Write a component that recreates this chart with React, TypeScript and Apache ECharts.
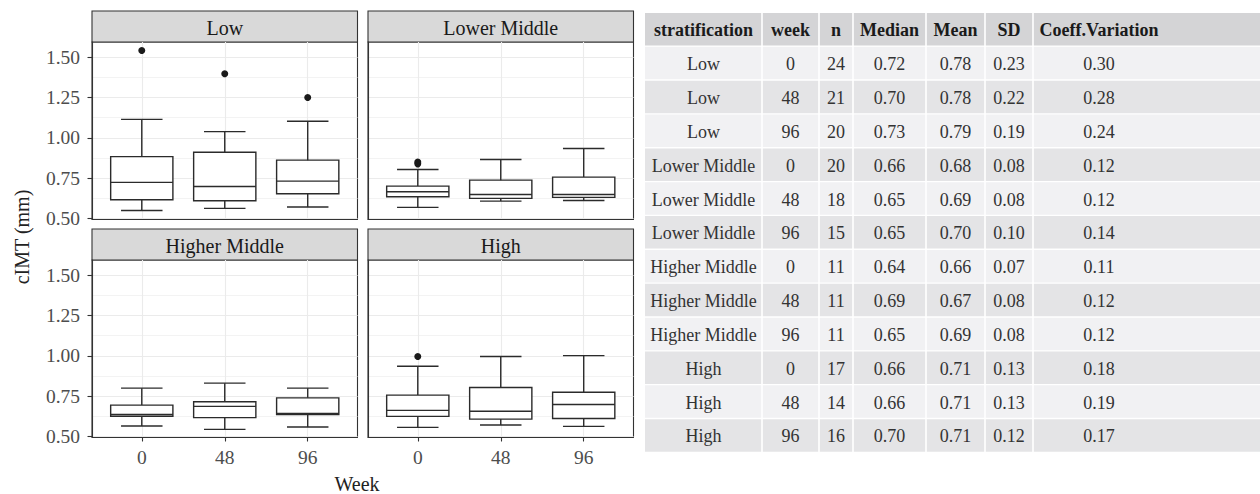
import React, { useEffect, useRef } from "react";
import * as echarts from "echarts";

// ---------- data ----------
const strata = ["Low", "Lower Middle", "Higher Middle", "High"];
const weeks = ["0", "48", "96"];
const yTicks = [0.5, 0.75, 1.0, 1.25, 1.5];
const yMinorTicks = [0.625, 0.875, 1.125, 1.375];

// [min, q1, median, q3, max] for weeks 0, 48, 96
const boxLow = [
  [0.549, 0.615, 0.723, 0.883, 1.114],
  [0.562, 0.609, 0.698, 0.91, 1.038],
  [0.57, 0.653, 0.731, 0.861, 1.102],
];
const boxLowerMiddle = [
  [0.568, 0.634, 0.665, 0.7, 0.803],
  [0.607, 0.624, 0.648, 0.737, 0.865],
  [0.611, 0.63, 0.648, 0.756, 0.933],
];
const boxHigherMiddle = [
  [0.564, 0.625, 0.636, 0.694, 0.799],
  [0.543, 0.616, 0.686, 0.715, 0.83],
  [0.558, 0.636, 0.642, 0.739, 0.799],
];
const boxHigh = [
  [0.556, 0.624, 0.661, 0.756, 0.935],
  [0.57, 0.607, 0.656, 0.803, 0.995],
  [0.562, 0.611, 0.698, 0.774, 1.001],
];
// [week index, value]
const outLow = [[0, 1.541], [1, 1.397], [2, 1.25]];
const outLowerMiddle = [[0, 0.838], [0, 0.85]];
const outHigherMiddle: number[][] = [];
const outHigh = [[0, 0.995]];

const panelBoxes = [boxLow, boxLowerMiddle, boxHigherMiddle, boxHigh];
const panelOutliers = [outLow, outLowerMiddle, outHigherMiddle, outHigh];

// summary table
const tableHeader = ["stratification", "week", "n", "Median", "Mean", "SD", "Coeff.Variation"];
const tabStrat = ["Low", "Low", "Low", "Lower Middle", "Lower Middle", "Lower Middle", "Higher Middle", "Higher Middle", "Higher Middle", "High", "High", "High"];
const tabWeek = ["0", "48", "96", "0", "48", "96", "0", "48", "96", "0", "48", "96"];
const tabN = ["24", "21", "20", "20", "18", "15", "11", "11", "11", "17", "14", "16"];
const tabMedian = ["0.72", "0.70", "0.73", "0.66", "0.65", "0.65", "0.64", "0.69", "0.65", "0.66", "0.66", "0.70"];
const tabMean = ["0.78", "0.78", "0.79", "0.68", "0.69", "0.70", "0.66", "0.67", "0.69", "0.71", "0.71", "0.71"];
const tabSD = ["0.23", "0.22", "0.19", "0.08", "0.08", "0.10", "0.07", "0.08", "0.08", "0.13", "0.13", "0.12"];
const tabCV = ["0.30", "0.28", "0.24", "0.12", "0.12", "0.14", "0.11", "0.12", "0.12", "0.18", "0.19", "0.17"];

// ---------- layout ----------
const FONT = "Liberation Serif";
const gridLefts = [92, 368];
const gridTops = [42, 260];
const gridW = 265.5;
const gridH = 177;
const stripH = 31;
const Y_MIN = 0.496;
const Y_MAX = 1.594;

const colEdges = [645, 762, 819, 853, 926, 985, 1033, 1262];
const colCenters = [703.5, 790.5, 836, 889.5, 955.5, 1009, 1099];
const tableTop = 13;
const rowPitch = 33.85;
const rowH = 32.5;

export default function App() {
  const ref = useRef<HTMLDivElement>(null);

  useEffect(() => {
    if (!ref.current) return;
    const chart = echarts.init(ref.current, null, { renderer: "svg" });

    const grids: any[] = [];
    const xAxes: any[] = [];
    const yAxes: any[] = [];
    const series: any[] = [];
    const graphics: any[] = [];

    for (let i = 0; i < 4; i++) {
      const row = Math.floor(i / 2);
      const col = i % 2;
      const left = gridLefts[col];
      const top = gridTops[row];
      const bottomRow = row === 1;
      const leftCol = col === 0;
      grids.push({
        left,
        top,
        width: gridW,
        height: gridH,
        show: true,
        backgroundColor: "#ffffff",
        borderColor: "#333333",
        borderWidth: 1.1,
        outerBoundsMode: "none",
        containLabel: false,
      });
      xAxes.push({
        type: "value",
        gridIndex: i,
        min: -0.6,
        max: 2.6,
        axisLine: { show: true, onZero: false, lineStyle: { color: "#333333", width: 1.1 } },
        axisTick: {
          show: bottomRow,
          customValues: [0, 1, 2],
          length: 4.5,
          lineStyle: { color: "#333333", width: 1.1 },
        },
        axisLabel: {
          show: bottomRow,
          customValues: [0, 1, 2],
          formatter: (v: number) => weeks[Math.round(v)] ?? "",
          margin: 10,
          fontFamily: FONT,
          fontSize: 19.5,
          color: "#4d4d4d",
        },
        splitLine: { show: true, lineStyle: { color: "#ebebeb", width: 1.1 } },
      });
      yAxes.push({
        type: "value",
        gridIndex: i,
        min: Y_MIN,
        max: Y_MAX,
        position: "left",
        axisLine: { show: true, onZero: false, lineStyle: { color: "#333333", width: 1.1 } },
        axisTick: {
          show: leftCol,
          customValues: yTicks,
          length: 4.5,
          lineStyle: { color: "#333333", width: 1.1 },
        },
        axisLabel: {
          show: leftCol,
          customValues: yTicks,
          formatter: (v: number) => v.toFixed(2),
          margin: 12,
          fontFamily: FONT,
          fontSize: 19.5,
          color: "#4d4d4d",
        },
        splitLine: { show: true, lineStyle: { color: "#ebebeb", width: 1.1 } },
      });
      yAxes.push({
        type: "value",
        gridIndex: i,
        min: Y_MIN,
        max: Y_MAX,
        position: "right",
        axisLine: { show: false },
        axisTick: { show: false, customValues: yMinorTicks },
        axisLabel: { show: false, customValues: yMinorTicks },
        splitLine: { show: true, lineStyle: { color: "#f0f0f0", width: 0.8 } },
      });

      series.push({
        type: "custom",
        xAxisIndex: i,
        yAxisIndex: 2 * i,
        z: 3,
        encode: { x: 0, y: [1, 2, 3, 4, 5] },
        data: panelBoxes[i].map((b, k) => [k, ...b]),
        renderItem: (params: any, api: any) => {
          const x = api.value(0);
          const lo = api.coord([x, api.value(1)]);
          const q1 = api.coord([x, api.value(2)]);
          const md = api.coord([x, api.value(3)]);
          const q3 = api.coord([x, api.value(4)]);
          const hi = api.coord([x, api.value(5)]);
          const unit = api.size([1, 0])[0];
          const bw = unit * 0.75;
          const cw = unit * 0.5;
          const st = { stroke: "#2b2b2b", lineWidth: 1.4, fill: "none" };
          return {
            type: "group",
            children: [
              { type: "line", shape: { x1: lo[0], y1: lo[1], x2: hi[0], y2: hi[1] }, style: st },
              { type: "line", shape: { x1: lo[0] - cw / 2, y1: lo[1], x2: lo[0] + cw / 2, y2: lo[1] }, style: st },
              { type: "line", shape: { x1: hi[0] - cw / 2, y1: hi[1], x2: hi[0] + cw / 2, y2: hi[1] }, style: st },
              {
                type: "rect",
                shape: { x: q3[0] - bw / 2, y: q3[1], width: bw, height: q1[1] - q3[1] },
                style: { fill: "#ffffff", stroke: "#2b2b2b", lineWidth: 1.4 },
              },
              { type: "line", shape: { x1: md[0] - bw / 2, y1: md[1], x2: md[0] + bw / 2, y2: md[1] }, style: st },
            ],
          };
        },
      });
      series.push({
        type: "scatter",
        xAxisIndex: i,
        yAxisIndex: 2 * i,
        z: 4,
        symbolSize: 7,
        itemStyle: { color: "#1a1a1a", opacity: 1 },
        data: panelOutliers[i],
      });

      // strip
      graphics.push({
        type: "rect",
        shape: { x: left, y: top - stripH, width: gridW, height: stripH },
        style: { fill: "#d9d9d9", stroke: "#333333", lineWidth: 1.1 },
      });
      graphics.push({
        type: "text",
        x: left + gridW / 2,
        y: top - stripH / 2 + 1,
        style: {
          text: strata[i],
          fontFamily: FONT,
          fontSize: 20,
          fill: "#1a1a1a",
          textAlign: "center",
          textVerticalAlign: "middle",
        },
      });
    }

    // axis titles
    graphics.push({
      type: "text",
      x: 357,
      y: 484,
      style: {
        text: "Week",
        fontFamily: FONT,
        fontSize: 20,
        fill: "#222222",
        textAlign: "center",
        textVerticalAlign: "middle",
      },
    });
    graphics.push({
      type: "text",
      x: 22,
      y: 237,
      rotation: Math.PI / 2,
      style: {
        text: "cIMT (mm)",
        fontFamily: FONT,
        fontSize: 20,
        fill: "#222222",
        textAlign: "center",
        textVerticalAlign: "middle",
      },
    });

    // table
    const tableCols = [tabStrat, tabWeek, tabN, tabMedian, tabMean, tabSD, tabCV];
    const nRows = tabStrat.length;
    for (let r = 0; r <= nRows; r++) {
      const y = tableTop + r * rowPitch;
      const fill = r === 0 ? "#d4d4d6" : r % 2 === 1 ? "#f1f1f3" : "#e4e4e6";
      for (let c = 0; c < tableHeader.length; c++) {
        const x0 = colEdges[c] + (c === 0 ? 0 : 0.8);
        const x1 = colEdges[c + 1] - 0.8;
        graphics.push({
          type: "rect",
          shape: { x: x0, y, width: x1 - x0, height: rowH },
          style: { fill },
        });
        const txt = r === 0 ? tableHeader[c] : tableCols[c][r - 1];
        graphics.push({
          type: "text",
          x: colCenters[c],
          y: y + rowH / 2 + 1,
          style: {
            text: txt,
            fontFamily: FONT,
            fontSize: 18,
            fontWeight: r === 0 ? "bold" : "normal",
            fill: r === 0 ? "#1a1a1a" : "#333333",
            textAlign: "center",
            textVerticalAlign: "middle",
          },
        });
      }
    }

    chart.setOption({
      animation: false,
      backgroundColor: "#ffffff",
      grid: grids,
      xAxis: xAxes,
      yAxis: yAxes,
      series,
      graphic: { elements: graphics },
    });

    return () => chart.dispose();
  }, []);

  return (
    <div
      ref={ref}
      style={{ position: "fixed", left: 0, top: 0, width: 1260, height: 494 }}
    />
  );
}
